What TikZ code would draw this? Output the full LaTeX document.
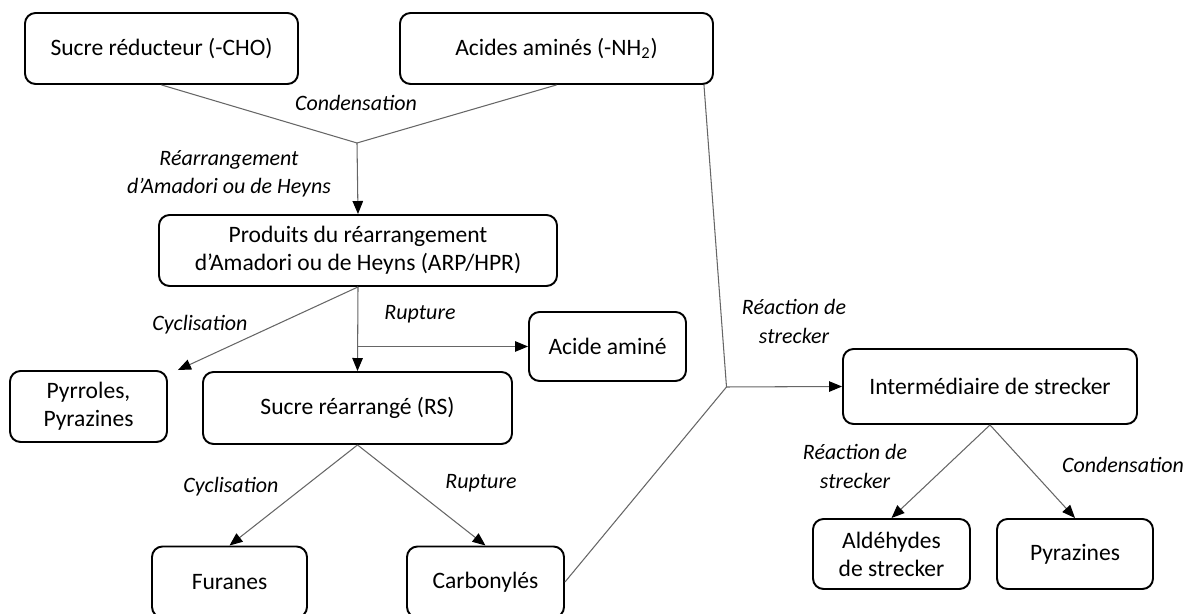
\documentclass[tikz,border=0pt]{standalone}
\usepackage{fontspec}
\setmainfont{Carlito}
\usepackage{tikz}
\usetikzlibrary{arrows.meta, positioning, calc}

\begin{document}
\begin{tikzpicture}[
  chembox/.style={draw=black, line width=1.1pt, rounded corners=6pt, align=center,
    inner sep=0pt, minimum height=1.42cm, font=\fontsize{13.4}{16}\selectfont},
  reaclabel/.style={align=center, font=\fontsize{12.5}{16}\selectfont\itshape},
  conn/.style={draw=black!60, line width=0.6pt},
  connarrow/.style={conn, -{Triangle[length=2.6mm, width=2.1mm, color=black]}}
]
  \clip (0,0) rectangle (23.8,12.28);

  % Starting reagents
  \node[chembox, minimum width=5.46cm] (sucre) at (3.23, 11.31) {Sucre réducteur (-CHO)};
  \node[chembox, minimum width=6.26cm] (acides) at (11.13, 11.31) {Acides aminés (-NH\textsubscript{2})};
  \coordinate (condpt) at (7.14, 9.42);

  % Amadori / Heyns products
  \node[chembox, minimum width=7.96cm] (arp) at (7.16, 7.27) {Produits du réarrangement\\d’Amadori ou de Heyns (ARP/HPR)};

  % Degradation products
  \node[chembox, minimum width=3.14cm] (pyr) at (1.77, 4.15) {Pyrroles,\\Pyrazines};
  \node[chembox, minimum width=6.18cm, minimum height=1.44cm] (rs) at (7.15, 4.12) {Sucre réarrangé (RS)};
  \node[chembox, minimum width=3.14cm, minimum height=1.38cm] (aa) at (12.15, 5.35) {Acide aminé};
  \node[chembox, minimum width=3.10cm] (fur) at (4.59, 0.64) {Furanes};
  \node[chembox, minimum width=3.14cm] (carb) at (9.71, 0.64) {Carbonylés};

  % Strecker branch
  \coordinate (streckpt) at (14.53, 4.54);
  \node[chembox, minimum width=5.88cm, minimum height=1.5cm] (inter) at (19.80, 4.55) {Intermédiaire de strecker};
  \node[chembox, minimum width=3.14cm, minimum height=1.4cm] (ald) at (17.83, 1.20) {Aldéhydes\\de strecker};
  \node[chembox, minimum width=3.12cm, minimum height=1.4cm] (pyz) at (21.50, 1.20) {Pyrazines};

  % Connectors
  \draw[conn] (sucre.south) -- (condpt) -- (acides.south);
  \draw[connarrow] (condpt) -- (arp.north);
  \draw[connarrow] (arp.south) -- ($(pyr.north east)+(0.2,0)$);
  \draw[connarrow] (arp.south) -- (rs.north);
  \draw[connarrow] (arp.south |- aa.west) -- (aa.west);
  \draw[connarrow] (rs.south) -- (fur.north);
  \draw[connarrow] (rs.south) -- (carb.north);
  \draw[conn] ($(acides.south east)+(-0.2,0)$) -- (streckpt) -- (carb.east);
  \draw[connarrow] (streckpt) -- (inter.west);
  \draw[connarrow] (inter.south) -- (ald.north);
  \draw[connarrow] (inter.south) -- (pyz.north);

  % Reaction labels
  \node[reaclabel] (lcond) at (7.12, 10.22) {Condensation};
  \node[reaclabel] (lrearr) at (4.58, 8.80) {Réarrangement\\d’Amadori ou de Heyns};
  \node[reaclabel] (lcyc1) at (4.00, 5.78) {Cyclisation};
  \node[reaclabel] (lrup1) at (8.40, 6.00) {Rupture};
  \node[reaclabel] (lcyc2) at (4.62, 2.54) {Cyclisation};
  \node[reaclabel] (lrup2) at (9.62, 2.62) {Rupture};
  \node[reaclabel] (lstr1) at (15.88, 5.85) {Réaction de\\strecker};
  \node[reaclabel] (lstr2) at (17.10, 2.95) {Réaction de\\strecker};
  \node[reaclabel] (lcond2) at (22.46, 2.98) {Condensation};
\end{tikzpicture}
\end{document}
